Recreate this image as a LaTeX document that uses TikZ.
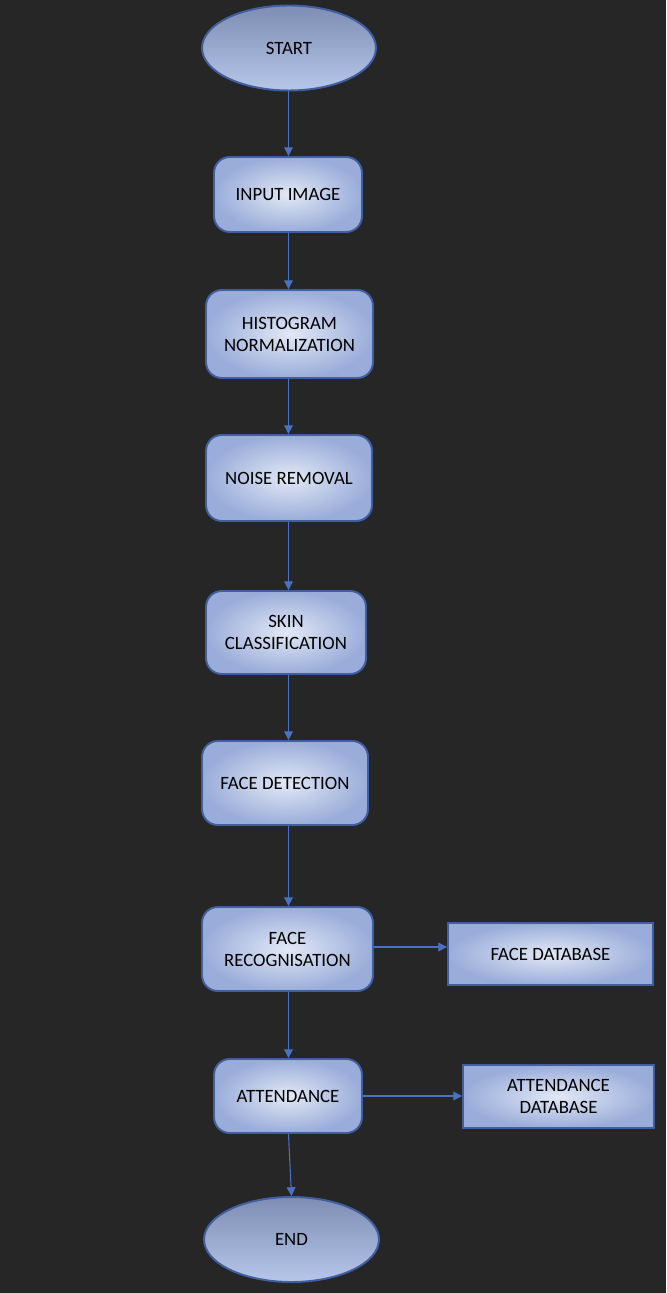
\documentclass[tikz,border=0pt]{standalone}
\usepackage{fontspec}
\setmainfont{Carlito}
\usepackage{xcolor}
\usepackage{tikz}
\usetikzlibrary{shapes.geometric}
\usetikzlibrary{arrows.meta}
\definecolor{bgdark}{HTML}{262626}
\definecolor{edgeblue}{HTML}{3F5FA0}
\definecolor{arrowblue}{HTML}{4A72C0}
\definecolor{boxlight}{HTML}{E2E8F5}
\definecolor{boxdark}{HTML}{9AADDA}
\definecolor{ovaltop}{HTML}{7D8DB3}
\definecolor{ovalbottom}{HTML}{B7C7EA}
\tikzset{
	stepbox/.style={draw=edgeblue, line width=1.1pt, rounded corners=9pt, shading=radial, inner color=boxlight, outer color=boxdark, align=center, font=\fontsize{10.7}{12.5}\selectfont, text=black},
	databox/.style={draw=edgeblue, line width=1.1pt, shading=radial, inner color=boxlight, outer color=boxdark, align=center, font=\fontsize{10.7}{12.5}\selectfont, text=black},
	terminal/.style={ellipse, draw=edgeblue, line width=1.1pt, top color=ovaltop, bottom color=ovalbottom, font=\fontsize{10.7}{12.5}\selectfont, text=black, inner sep=0pt},
	flow/.style={draw=arrowblue, line width=0.6pt, -{Triangle[length=5pt,width=5pt]}},
}

\begin{document}
\begin{tikzpicture}[x=0.02cm, y=-0.02cm]
	\fill[bgdark] (0, 0) rectangle (666, 1293);
	\useasboundingbox (0, 0) rectangle (666, 1293);
	\coordinate (col) at (288.5, 0);
	% main column
	\node[terminal, minimum width=3.48cm, minimum height=1.7cm] (start) at (289, 48) {START};
	\node[stepbox, minimum width=2.96cm, minimum height=1.5cm] (input) at (288, 194.5) {INPUT IMAGE};
	\node[stepbox, minimum width=3.34cm, minimum height=1.76cm] (hist) at (289.5, 334) {HISTOGRAM\\NORMALIZATION};
	\node[stepbox, minimum width=3.32cm, minimum height=1.72cm] (noise) at (289, 478) {NOISE REMOVAL};
	\node[stepbox, minimum width=3.2cm, minimum height=1.66cm] (skin) at (286, 632.5) {SKIN\\CLASSIFICATION};
	\node[stepbox, minimum width=3.32cm, minimum height=1.68cm] (detect) at (285, 783) {FACE DETECTION};
	\node[stepbox, minimum width=3.42cm, minimum height=1.68cm] (recog) at (287.5, 949) {FACE\\RECOGNISATION};
	\node[stepbox, minimum width=2.96cm, minimum height=1.48cm] (attend) at (288, 1096) {ATTENDANCE};
	\node[terminal, minimum width=3.5cm, minimum height=1.7cm] (end) at (291.5, 1239.5) {END};
	% databases
	\node[databox, minimum width=4.1cm, minimum height=1.24cm] (facedb) at (550.5, 954) {FACE DATABASE};
	\node[databox, minimum width=3.82cm, minimum height=1.26cm] (attenddb) at (558.5, 1096.5) {ATTENDANCE\\DATABASE};
	% connectors
	\draw[flow] (start.south -| col) -- (input.north -| col);
	\draw[flow] (input.south -| col) -- (hist.north -| col);
	\draw[flow] (hist.south -| col) -- (noise.north -| col);
	\draw[flow] (noise.south -| col) -- (skin.north -| col);
	\draw[flow] (skin.south -| col) -- (detect.north -| col);
	\draw[flow] (detect.south -| col) -- (recog.north -| col);
	\draw[flow] (recog.south -| col) -- (attend.north -| col);
	\draw[flow] (attend.south -| col) -- (end.north);
	\draw[flow] (recog.east |- 0, 947) -- (facedb.west |- 0, 947);
	\draw[flow] (attend.east) -- (attenddb.west |- attend.east);
\end{tikzpicture}
\end{document}
